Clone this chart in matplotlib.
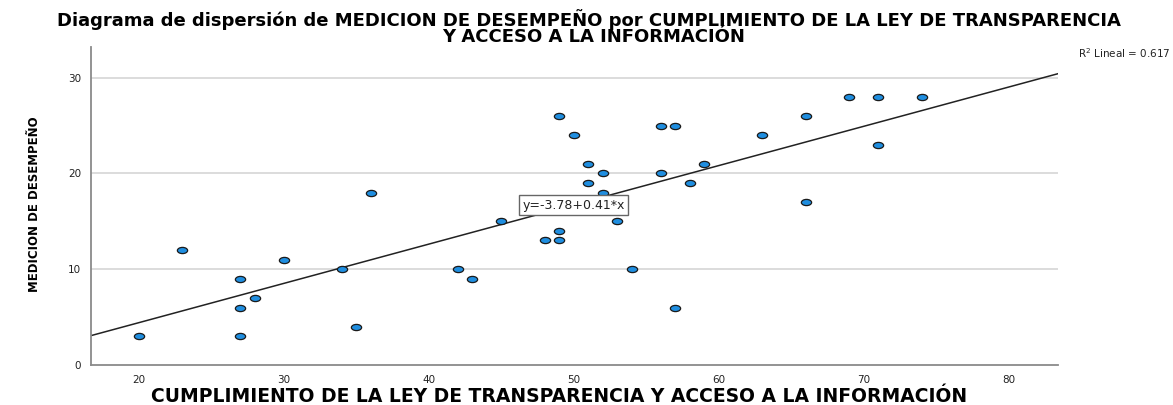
import numpy as np
import matplotlib
matplotlib.use("Agg")
import matplotlib.pyplot as plt
from matplotlib.markers import MarkerStyle
from matplotlib.transforms import Affine2D

# Datos (x = cumplimiento, y = desempeño)
cumplimiento = [20, 23, 27, 27, 27, 28, 30, 34, 35, 36, 42, 43, 45, 48, 49, 49, 49,
                50, 51, 51, 52, 52, 53, 54, 56, 56, 57, 57, 58, 59, 63, 66, 66,
                69, 71, 71, 74]
desempeno = [3, 12, 9, 6, 3, 7, 11, 10, 4, 18, 10, 9, 15, 13, 13, 14, 26,
             24, 21, 19, 20, 18, 15, 10, 25, 20, 25, 6, 19, 21, 24, 26, 17,
             28, 28, 23, 28]

# Ajuste lineal mostrado en el grafico
intercepto = -3.78
pendiente = 0.41
r2 = 0.617

x_ticks = [20, 30, 40, 50, 60, 70, 80]
y_ticks = [0, 10, 20, 30]

titulo_1 = "Diagrama de dispersión de MEDICION DE DESEMPEÑO por CUMPLIMIENTO DE LA LEY DE TRANSPARENCIA"
titulo_2 = "Y ACCESO A LA INFORMACIÓN"
etiqueta_x = "CUMPLIMIENTO DE LA LEY DE TRANSPARENCIA Y ACCESO A LA INFORMACIÓN"
etiqueta_y = "MEDICION DE DESEMPEÑO"

plt.rcParams['font.family'] = ['DejaVu Sans']

W, H = 1173, 405
fig = plt.figure(figsize=(W / 100, H / 100), dpi=100)
ax = fig.add_axes([91 / W, 40 / H, 967 / W, 318 / H])

xmin, xmax = 16.7, 83.4
ax.set_xlim(xmin, xmax)
ax.set_ylim(0, 33.2)

# lineas de referencia
for yt in y_ticks[1:]:
    ax.axhline(yt, color='#d6d6d6', lw=1.2, zorder=0)

# recta de regresion
xl = np.array([xmin, xmax])
ax.plot(xl, intercepto + pendiente * xl, color='#222222', lw=1.1, zorder=2)

# puntos (ovalados como en SPSS)
marcador = MarkerStyle('o', transform=Affine2D().scale(1.65, 1.0))
ax.scatter(cumplimiento, desempeno, marker=marcador, s=20, facecolor='#1f8ee0',
           edgecolor='#1a1a1a', linewidth=0.9, zorder=3)

ax.text(50.0, 16.7, f"y={intercepto:.2f}+{pendiente:.2f}*x", fontsize=9,
        ha='center', va='center', color='#222222', zorder=4,
        bbox=dict(boxstyle='square,pad=0.25', facecolor='white', edgecolor='#666666', lw=1))

ax.set_xticks(x_ticks)
ax.set_yticks(y_ticks)
ax.tick_params(length=0, labelsize=7.5, labelcolor='#222222', pad=7)

for s in ['top', 'right']:
    ax.spines[s].set_visible(False)
for s in ['left', 'bottom']:
    ax.spines[s].set_color('#8a8a8a')
    ax.spines[s].set_linewidth(1.3)

# etiquetas de ejes
fig.text(559 / W, 1 - 402 / H, etiqueta_x, ha='center', va='baseline',
         fontsize=13.5, fontweight='bold')
fig.text(35 / W, 1 - 204 / H, etiqueta_y, ha='center', va='center', rotation=90,
         fontsize=8.5, fontweight='bold')

# titulo en dos lineas
fig.text(589 / W, 1 - 26 / H, titulo_1, ha='center', va='baseline',
         fontsize=13, fontweight='bold')
fig.text(594 / W, 1 - 42 / H, titulo_2, ha='center', va='baseline',
         fontsize=13, fontweight='bold')

fig.text(1171 / W, 1 - 58 / H, f"R$^2$ Lineal = {r2:.3f}", ha='right',
         va='baseline', fontsize=7.5, color='#222222')

fig.savefig("out.png", dpi=100)
